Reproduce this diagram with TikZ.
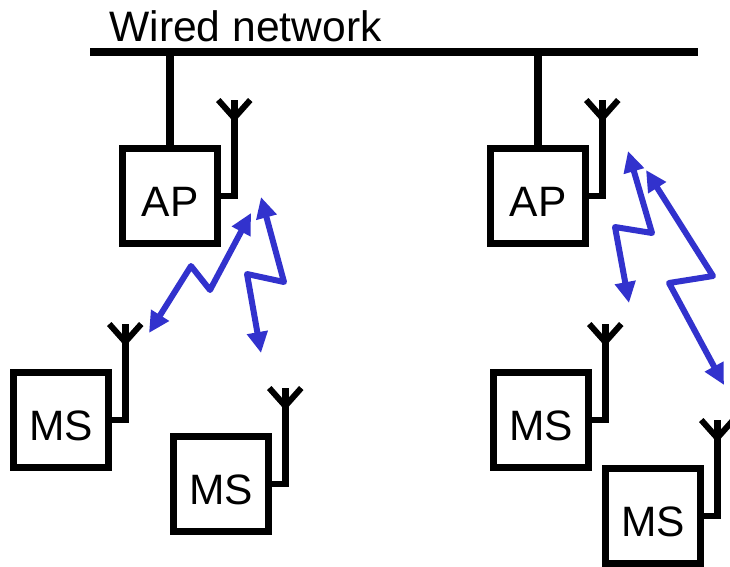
\documentclass[tikz,border=0pt]{standalone}
\usepackage{fontspec}
\setmainfont{Liberation Sans}
\usetikzlibrary{arrows.meta}
\usetikzlibrary{calc}
\newcommand{\antenna}[1]{
	\coordinate (#1foot) at ($(#1.east)+(13.5,0)$);
	\draw[wire] (#1.east) -- (#1foot) -- ++(0,-96) coordinate (#1top);
	\coordinate (#1fork) at ($(#1top)+(0,18)$);
	\draw[prong] ($(#1top)+(-16,0)$) -- (#1fork) -- ($(#1top)+(16,0)$);
}
\begin{document}
\begin{tikzpicture}[x=1pt,y=-1pt]
\definecolor{radioblue}{RGB}{50,50,205}
\tikzstyle{station}=[draw,line width=6.5pt,minimum size=95pt,inner sep=0pt,text height=40pt,text depth=0pt,font=\fontsize{42.5}{50}\selectfont];
\tikzstyle{bus}=[line width=8pt];
\tikzstyle{wire}=[line width=6.5pt];
\tikzstyle{prong}=[line width=6pt];
\tikzstyle{radio}=[draw=radioblue,line width=6pt,line join=round,{Triangle[length=21pt,width=20pt,fill=radioblue]}-{Triangle[length=21pt,width=20pt,fill=radioblue]}];
\useasboundingbox (0,0) rectangle (730,566);

\node[font=\fontsize{42.6}{50}\selectfont,inner sep=0pt] (title) at (245.5,26.5) {Wired network};
\coordinate (busleft) at (90,52);
\coordinate (busright) at (698,52);
\draw[bus] (busleft) -- (busright);

\node[station] (ap1) at (170,196) {AP};
\node[station] (ap2) at (538,196) {AP};
\node[station] (ms1) at (61,420) {MS};
\node[station] (ms2) at (221,484) {MS};
\node[station] (ms3) at (541,420) {MS};
\node[station] (ms4) at (653,516) {MS};

\draw[bus] (ap1.north) -- (ap1.north |- busleft);
\draw[bus] (ap2.north) -- (ap2.north |- busleft);

\antenna{ap1}
\antenna{ap2}
\antenna{ms1}
\antenna{ms2}
\antenna{ms3}
\antenna{ms4}

\coordinate (a1) at (149,333);
\coordinate (a2) at (191,266);
\coordinate (a3) at (210,290);
\coordinate (a4) at (251,213);
\draw[radio] (a1) -- (a2) -- (a3) -- (a4);

\coordinate (b1) at (261,197);
\coordinate (b2) at (284,282);
\coordinate (b3) at (247,274);
\coordinate (b4) at (261,353);
\draw[radio] (b1) -- (b2) -- (b3) -- (b4);

\coordinate (c1) at (628,151);
\coordinate (c2) at (652,233);
\coordinate (c3) at (615,227);
\coordinate (c4) at (629,303);
\draw[radio] (c1) -- (c2) -- (c3) -- (c4);

\coordinate (d1) at (646,170);
\coordinate (d2) at (713,276);
\coordinate (d3) at (669,283);
\coordinate (d4) at (724,385);
\draw[radio] (d1) -- (d2) -- (d3) -- (d4);
\end{tikzpicture}
\end{document}
